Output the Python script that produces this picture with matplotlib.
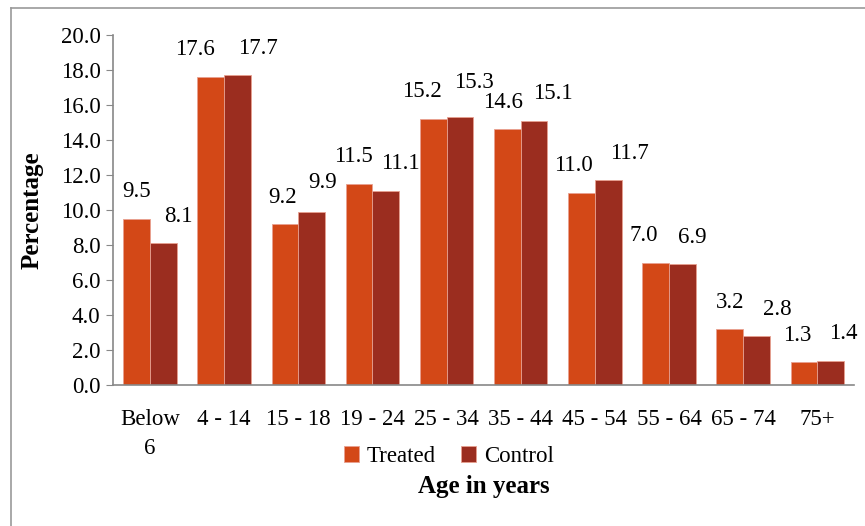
import numpy as np
import matplotlib.pyplot as plt
from matplotlib.lines import Line2D

plt.rcParams['font.family'] = ['Liberation Serif', 'DejaVu Serif']

groups = ["Below\n6", "4 - 14", "15 - 18", "19 - 24", "25 - 34", "35 - 44",
          "45 - 54", "55 - 64", "65 - 74", "75+"]
treated = [9.5, 17.6, 9.2, 11.5, 15.2, 14.6, 11.0, 7.0, 3.2, 1.3]
control = [8.1, 17.7, 9.9, 11.1, 15.3, 15.1, 11.7, 6.9, 2.8, 1.4]

c_treated = "#D34817"
c_control = "#9B2D1F"
fs = 16.5

# nudges (pixels) so neighbouring value labels don't collide
nudge_treated = [0, -16, -2, -6, -11, -4, -8, -12, 0, -7]
nudge_control = [15, 20, 11, 15, 14, 19, 21, 10, 21, 13]
lift_control = [0, 0, 2, 0, 8, 0, 0, 0, 0, 0]

fig = plt.figure(figsize=(8.65, 5.26), dpi=100)
ax = fig.add_axes([0.1306, 0.268, 0.857, 0.6655])

x = np.arange(len(groups))
w = 0.36
b1 = ax.bar(x - w/2, treated, w, color=c_treated, edgecolor="#E8A090", linewidth=0.6, label="Treated")
b2 = ax.bar(x + w/2, control, w, color=c_control, edgecolor="#E8A090", linewidth=0.6, label="Control")

for bars, vals, nudges, lifts in [(b1, treated, nudge_treated, [0] * len(treated)),
                                  (b2, control, nudge_control, lift_control)]:
    for rect, v, dx, dy in zip(bars, vals, nudges, lifts):
        ax.annotate(f"{v:.1f}", (rect.get_x() + rect.get_width()/2, v),
                    xytext=(dx, 27 + dy), textcoords="offset pixels",
                    ha="center", va="center", fontsize=fs)

ax.set_xlim(-0.5, len(groups) - 0.5)
ax.set_ylim(0, 20)
ax.set_yticks(np.arange(0, 20.1, 2))
ax.set_yticklabels([f"{t:.1f}" for t in np.arange(0, 20.1, 2)], fontsize=fs)
ax.set_xticks(x)
ax.set_xticklabels(groups, fontsize=fs, linespacing=1.5)
ax.tick_params(axis="x", length=0, pad=17)
ax.tick_params(axis="y", length=5, color="#888888", pad=4)
for side in ["top", "right"]:
    ax.spines[side].set_visible(False)
for side in ["left", "bottom"]:
    ax.spines[side].set_color("#888888")
    ax.spines[side].set_linewidth(1.2)

ax.set_ylabel("Percentage", fontsize=18, fontweight="bold")
ax.yaxis.set_label_coords(-0.094, 0.5)
ax.set_xlabel("Age in years", fontsize=18, fontweight="bold")
ax.xaxis.set_label_coords(0.5, -0.257)

ax.legend(loc="center", bbox_to_anchor=(0.453, -0.204), ncol=2, frameon=False,
          fontsize=fs, handlelength=0.65, handleheight=0.65, handletextpad=0.35,
          columnspacing=1.1)

# outer chart border (left and top edges only show)
fig.add_artist(Line2D([10.5/865, 10.5/865], [0, 1 - 8/526], transform=fig.transFigure,
                      color="#999999", linewidth=1.2))
fig.add_artist(Line2D([10.5/865, 1], [1 - 8/526, 1 - 8/526], transform=fig.transFigure,
                      color="#999999", linewidth=1.2))

fig.savefig("out.png", dpi=100)
